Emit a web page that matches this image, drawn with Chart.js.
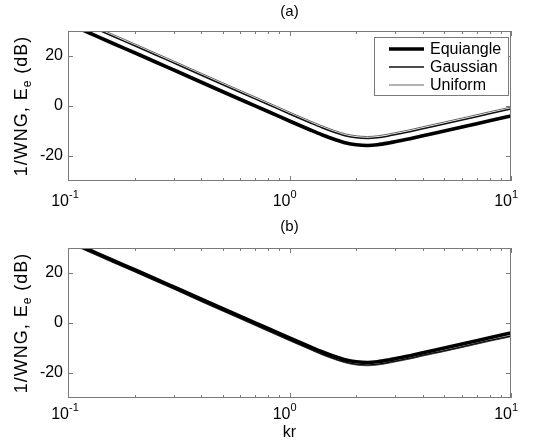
<!DOCTYPE html>
<html>
<head>
<meta charset="utf-8">
<script src="https://cdn.jsdelivr.net/npm/chart.js@4.4.0/dist/chart.umd.min.js"></script>
<style>
  body { margin: 0; background: #fff; width: 534px; height: 445px; overflow: hidden; position: relative; }
  canvas { position: absolute; left: 0; }
</style>
</head>
<body>
<canvas id="chartA" width="534" height="212" style="top:0"></canvas>
<canvas id="chartB" width="534" height="233" style="top:212px"></canvas>
<script>
const kr = [0.1, 0.125, 0.16, 0.2, 0.25, 0.315, 0.4, 0.5, 0.63, 0.8, 1, 1.25, 1.4, 1.6, 1.8, 2, 2.25, 2.5, 2.8, 3.15, 3.5, 4, 5, 6.3, 8, 10];

// panel (a)
const equiA = [33.0, 29.2, 25.0, 21.3, 17.5, 13.6, 9.5, 5.7, 1.8, -2.2, -6.0, -9.7, -11.5, -13.4, -14.8, -15.5, -15.8, -15.5, -14.8, -13.9, -13.1, -11.9, -10.0, -8.0, -5.9, -4.0];
const gaussA = [35.8, 32.0, 27.8, 24.1, 20.3, 16.4, 12.3, 8.5, 4.6, 0.6, -3.2, -6.9, -8.7, -10.6, -12.0, -12.7, -13.0, -12.7, -12.0, -11.1, -10.3, -9.1, -7.2, -5.2, -3.1, -1.2];
const unifA = [36.6, 32.8, 28.6, 24.9, 21.1, 17.2, 13.1, 9.3, 5.4, 1.4, -2.4, -6.1, -7.9, -9.8, -11.2, -11.9, -12.2, -11.9, -11.2, -10.3, -9.5, -8.3, -6.4, -4.4, -2.3, -0.4];

// panel (b)
const equiB = [33.0, 29.2, 25.0, 21.3, 17.5, 13.6, 9.5, 5.7, 1.8, -2.2, -6.0, -9.7, -11.5, -13.4, -14.8, -15.5, -15.8, -15.5, -14.8, -13.9, -13.1, -11.9, -10.0, -8.0, -5.9, -4.0];
const gaussB = [32.4, 28.6, 24.4, 20.7, 16.9, 13.0, 8.8, 5.0, 1.1, -3.0, -6.8, -10.5, -12.4, -14.3, -15.7, -16.5, -16.8, -16.5, -15.8, -14.9, -14.1, -12.9, -11.1, -9.1, -7.0, -5.2];
const unifB = [32.1, 28.3, 24.1, 20.4, 16.6, 12.7, 8.5, 4.7, 0.8, -3.3, -7.1, -10.8, -12.7, -14.6, -16.0, -16.8, -17.1, -16.8, -16.1, -15.2, -14.4, -13.2, -11.4, -9.4, -7.3, -5.5];

const seriesNames = ['Equiangle', 'Gaussian', 'Uniform'];
const xMajor = [0.1, 1, 10];
const xExp = ['-1', '0', '1'];
const xMinor = [0.2, 0.3, 0.4, 0.5, 0.6, 0.7, 0.8, 0.9, 2, 3, 4, 5, 6, 7, 8, 9];
const yTicks = [-20, 0, 20];

const FONT = '"Liberation Sans", Arial, Helvetica, sans-serif';

function makeDatasets(e, g, u) {
  const styles = [
    { color: '#000', width: 3.6 },
    { color: '#111', width: 1.5 },
    { color: '#555', width: 0.9 }
  ];
  return [e, g, u].map((vals, k) => ({
    label: seriesNames[k],
    data: kr.map((x, i) => ({ x: x, y: vals[i] })),
    borderColor: styles[k].color,
    borderWidth: styles[k].width,
    pointRadius: 0,
    fill: false,
    cubicInterpolationMode: 'monotone',
    clip: 0
  }));
}

// box, inward ticks, labels with superscripts, titles, legend
const axisDecor = {
  id: 'axisDecor',
  afterDatasetsDraw(chart, args, opts) {
    const { ctx, chartArea: a } = chart;
    const x = chart.scales.x, y = chart.scales.y;
    ctx.save();
    ctx.strokeStyle = '#7a7a7a';
    ctx.lineWidth = 1;
    ctx.strokeRect(a.left + 0.5, a.top + 0.5, a.right - a.left - 1, a.bottom - a.top - 1);

    ctx.beginPath();
    yTicks.forEach(v => {
      const py = Math.round(y.getPixelForValue(v)) + 0.5;
      ctx.moveTo(a.left, py); ctx.lineTo(a.left + 5, py);
      ctx.moveTo(a.right, py); ctx.lineTo(a.right - 5, py);
    });
    xMajor.forEach(v => {
      const px = Math.round(x.getPixelForValue(v)) + 0.5;
      ctx.moveTo(px, a.bottom); ctx.lineTo(px, a.bottom - 5);
      ctx.moveTo(px, a.top); ctx.lineTo(px, a.top + 5);
    });
    xMinor.forEach(v => {
      const px = Math.round(x.getPixelForValue(v)) + 0.5;
      ctx.moveTo(px, a.bottom); ctx.lineTo(px, a.bottom - 3);
      ctx.moveTo(px, a.top); ctx.lineTo(px, a.top + 3);
    });
    ctx.stroke();

    // x tick labels 10^n
    ctx.fillStyle = '#000';
    ctx.textBaseline = 'alphabetic';
    xMajor.forEach((v, i) => {
      const px = x.getPixelForValue(v);
      const base = a.bottom + opts.labelGap;
      ctx.font = '16px ' + FONT;
      ctx.textAlign = 'right';
      ctx.fillText('10', px + 1, base);
      ctx.font = '11px ' + FONT;
      ctx.textAlign = 'left';
      ctx.fillText(xExp[i], px + 1, base - 8);
    });

    // y axis title with subscript
    ctx.save();
    ctx.translate(27, (a.top + a.bottom) / 2);
    ctx.rotate(-Math.PI / 2);
    ctx.letterSpacing = '1px';
    const parts = [['1/WNG, E', 18, 0], ['e', 12, 4], [' (dB)', 18, 0]];
    let total = 0;
    parts.forEach(p => { ctx.font = p[1] + 'px ' + FONT; total += ctx.measureText(p[0]).width; });
    let cx = -total / 2;
    ctx.textAlign = 'left';
    parts.forEach(p => {
      ctx.font = p[1] + 'px ' + FONT;
      ctx.fillText(p[0], cx, p[2]);
      cx += ctx.measureText(p[0]).width;
    });
    ctx.restore();

    // panel title
    ctx.font = '15px ' + FONT;
    ctx.textAlign = 'center';
    ctx.textBaseline = 'middle';
    ctx.fillText(opts.title, (a.left + a.right) / 2, a.top - opts.titleGap);

    if (opts.xTitle) {
      ctx.font = '16px ' + FONT;
      ctx.textBaseline = 'alphabetic';
      ctx.fillText(opts.xTitle, (a.left + a.right) / 2, a.bottom + 39);
    }

    if (opts.legend) {
      const bx = 374, by = a.top + 6, bw = 134, bh = 58;
      ctx.fillStyle = '#fff';
      ctx.fillRect(bx, by, bw, bh);
      ctx.strokeStyle = '#7a7a7a';
      ctx.lineWidth = 1;
      ctx.strokeRect(bx + 0.5, by + 0.5, bw, bh);
      chart.data.datasets.forEach((ds, i) => {
        const ry = by + 12 + i * 18;
        ctx.strokeStyle = ds.borderColor;
        ctx.lineWidth = ds.borderWidth;
        ctx.beginPath();
        ctx.moveTo(bx + 15, ry); ctx.lineTo(bx + 50, ry);
        ctx.stroke();
        ctx.fillStyle = '#000';
        ctx.font = '16px ' + FONT;
        ctx.textAlign = 'left';
        ctx.textBaseline = 'middle';
        ctx.fillText(ds.label, bx + 56, ry + 1);
      });
    }
    ctx.restore();
  }
};

function makeChart(id, datasets, padTop, axisH, decor) {
  new Chart(document.getElementById(id), {
    type: 'line',
    data: { datasets: datasets },
    plugins: [axisDecor],
    options: {
      responsive: false,
      animation: false,
      layout: { padding: { top: padTop, right: 23, bottom: 0, left: 0 } },
      plugins: {
        legend: { display: false },
        tooltip: { enabled: false },
        axisDecor: decor
      },
      scales: {
        x: {
          type: 'logarithmic',
          min: 0.1,
          max: 10,
          grid: { display: false, drawTicks: false },
          border: { display: false },
          ticks: { display: false },
          afterFit: s => { s.height = axisH; }
        },
        y: {
          min: -30,
          max: 30,
          grid: { display: false, drawTicks: false },
          border: { display: false },
          ticks: {
            stepSize: 10,
            padding: 5,
            color: '#000',
            font: { size: 16, family: FONT },
            callback: v => yTicks.includes(v) ? String(v) : ''
          },
          afterFit: s => { s.width = 68; }
        }
      }
    }
  });
}

makeChart('chartA', makeDatasets(equiA, gaussA, unifA), 31, 31, { title: '(a)', titleGap: 19, labelGap: 25, legend: true });
makeChart('chartB', makeDatasets(equiB, gaussB, unifB), 36, 47, { title: '(b)', titleGap: 21, labelGap: 21, xTitle: 'kr' });
</script>
</body>
</html>
